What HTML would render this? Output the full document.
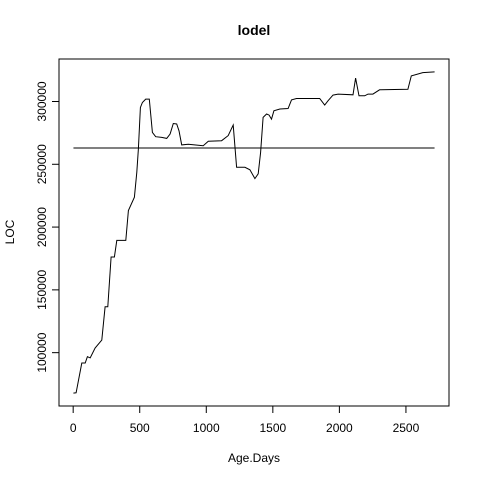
<!DOCTYPE html>
<html><head><meta charset="utf-8"><style>
html,body{margin:0;padding:0;background:#fff;}
svg text{font-family:"Liberation Sans",sans-serif;font-size:12px;fill:#000;}
</style></head><body>
<svg id="chart" width="480" height="480" viewBox="0 0 480 480">
<rect x="0" y="0" width="480" height="480" fill="#fff"/>
<text x="254" y="35" text-anchor="middle" style="font-weight:bold;font-size:14px">lodel</text>
<text x="254" y="462" text-anchor="middle">Age.Days</text>
<text transform="translate(14,232) rotate(-90)" text-anchor="middle">LOC</text>
<rect x="59" y="59" width="390" height="347" fill="none" stroke="#000" stroke-width="1"/>
<g id="xaxis"></g>
<g id="yaxis"></g>
<g id="marks"></g>
</svg>
<script>
const days = [2,22,65,90,107,128,165,215,240,260,285,310,328,395,415,460,478,490,505,520,545,572,595,620,665,703,728,752,778,795,815,865,977,1015,1115,1165,1202,1228,1290,1328,1365,1390,1408,1427,1453,1472,1490,1508,1553,1615,1640,1678,1852,1890,1915,1952,1990,2102,2122,2147,2190,2215,2252,2302,2515,2540,2627,2715];
const loc = [67760,68000,91800,91800,96800,95800,103700,110000,136500,136500,176200,176200,189400,189400,213200,223800,243600,262500,295200,299200,301900,301900,275400,272000,271400,270600,274100,282500,282100,276700,265400,265900,264800,268300,268800,272800,281300,247600,247600,245600,238600,242400,259500,287300,290000,289200,286000,292600,294000,294400,301300,302400,302400,297100,300600,305100,305900,305300,318600,304500,304500,305900,305900,309300,309800,320400,323000,323600];
const meanLoc = [263000];
const xTicks = [0,500,1000,1500,2000,2500];
const yTicks = [100000,150000,200000,250000,300000];

const NS="http://www.w3.org/2000/svg";
const xMin=-106.5,xMax=2823.5,yMin=57526,yMax=333834;
function xs(v){return 59+(v-xMin)/(xMax-xMin)*390;}
function ys(v){return 406-(v-yMin)/(yMax-yMin)*347;}
function mk(t,a,p){const e=document.createElementNS(NS,t);for(const k in a)e.setAttribute(k,a[k]);p.appendChild(e);return e;}
const xg=document.getElementById('xaxis'),yg=document.getElementById('yaxis'),mg=document.getElementById('marks');
mk('line',{x1:xs(xTicks[0]),x2:xs(xTicks[xTicks.length-1]),y1:406,y2:406,stroke:'#000'},xg);
xTicks.forEach(t=>{
  const l=mk('line',{x1:xs(t),x2:xs(t),y1:406,y2:413,stroke:'#000'},xg);
  
  
  const tx=mk('text',{x:xs(t),y:432,'text-anchor':'middle'},xg);tx.textContent=t;
  
  
});
mk('line',{x1:59,x2:59,y1:ys(yTicks[0]),y2:ys(yTicks[yTicks.length-1]),stroke:'#000'},yg);
yTicks.forEach(t=>{
  const l=mk('line',{x1:52,x2:59,y1:ys(t),y2:ys(t),stroke:'#000'},yg);
  
  
  const tx=mk('text',{transform:`translate(46,${ys(t)}) rotate(-90)`,'text-anchor':'middle'},yg);tx.textContent=t;
  
  
});
const pts=days.map((d,i)=>xs(d).toFixed(1)+','+ys(loc[i]).toFixed(1)).join(' ');
const pl=mk('polyline',{points:pts,fill:'none',stroke:'#000','stroke-width':1},mg);


const ml=mk('line',{x1:xs(days[0]),x2:xs(days[days.length-1]),y1:ys(meanLoc[0]),y2:ys(meanLoc[0]),stroke:'#000','stroke-width':1},mg);


</script>
</body></html>
